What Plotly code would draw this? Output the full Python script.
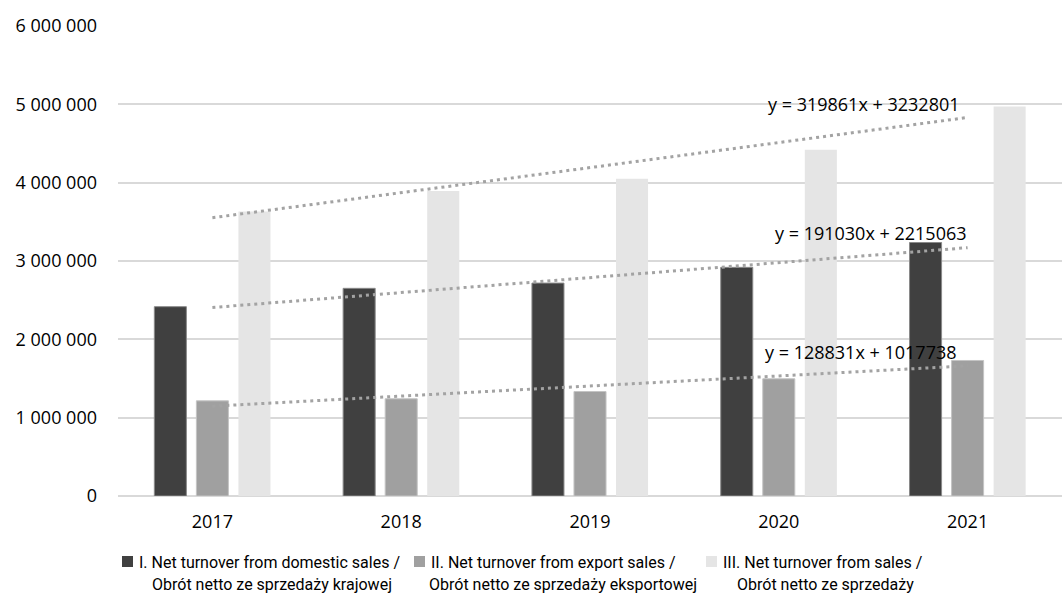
import plotly.graph_objects as go

# Years on the category axis
years = ["2017", "2018", "2019", "2020", "2021"]

# Net turnover series
domestic = [2417000, 2651000, 2718000, 2919000, 3236000]
export = [1215000, 1241000, 1334000, 1496000, 1730000]
total = [3631000, 3895000, 4049000, 4419000, 4972000]

# Linear trend coefficients (y = slope * x + intercept, x = 1..5)
trend_total = (319861, 3232801)
trend_domestic = (191030, 2215063)
trend_export = (128831, 1017738)

# Series names
name_domestic = ["I. Net turnover from domestic sales /", "Obrót netto ze sprzedaży krajowej"]
name_export = ["II. Net turnover from export sales /", "Obrót netto ze sprzedaży eksportowej"]
name_total = ["III. Net turnover from sales /", "Obrót netto ze sprzedaży"]

# Y axis ticks
y_ticks = [0, 1000000, 2000000, 3000000, 4000000, 5000000, 6000000]

W, H = 1064, 599
ML, MR, MT, MB = 118, 2, 26, 103
PW, PH = W - ML - MR, H - MT - MB


def px_x(px):
    return (px - ML) / PW


def px_y(py):
    return (H - MB - py) / PH


C_DARK, C_MID, C_LIGHT = "#404040", "#a0a0a0", "#e5e5e5"
TREND = "#a3a3a3"

fig = go.Figure()
fig.add_bar(x=years, y=domestic, name=" ".join(name_domestic),
            marker=dict(color=C_DARK, line=dict(color="#8a8a8a", width=1)))
fig.add_bar(x=years, y=export, name=" ".join(name_export),
            marker=dict(color=C_MID, line=dict(color="#c4c4c4", width=1)))
fig.add_bar(x=years, y=total, name=" ".join(name_total),
            marker=dict(color=C_LIGHT, line=dict(color="#e5e5e5", width=0)))

xs = list(range(1, len(years) + 1))
for slope, intercept in (trend_total, trend_domestic, trend_export):
    fig.add_scatter(x=years, y=[slope * x + intercept for x in xs], mode="lines",
                    line=dict(color=TREND, width=3, dash="3px,4px"),
                    showlegend=False, hoverinfo="skip")

annotations = []
# trend equations
eq_pos = [(trend_total, 864, 104), (trend_domestic, 871, 233), (trend_export, 861, 352)]
for (slope, intercept), cx, cy in eq_pos:
    annotations.append(dict(
        x=px_x(cx), y=px_y(cy), xref="paper", yref="paper",
        text=f"y = {slope}x + {intercept}", showarrow=False,
        xanchor="center", yanchor="middle",
        font=dict(family="Open Sans", size=18, color="#000000")))

# legend entries
legend_items = [(name_domestic, C_DARK, 122, 137, 150),
                (name_export, C_MID, 414, 429, 427),
                (name_total, C_LIGHT, 706, 721, 735)]
shapes = []
LEG_FONT = dict(family="Roboto, sans-serif", size=16, color="#000000")
for lines, col, sx, tx1, tx2 in legend_items:
    shapes.append(dict(type="rect", xref="paper", yref="paper",
                       x0=px_x(sx), x1=px_x(sx + 11), y0=px_y(567), y1=px_y(556),
                       fillcolor=col, line=dict(width=0)))
    annotations.append(dict(x=px_x(tx1), y=px_y(562), xref="paper", yref="paper",
                            text=lines[0], showarrow=False, xanchor="left",
                            yanchor="middle", font=LEG_FONT))
    annotations.append(dict(x=px_x(tx2), y=px_y(584), xref="paper", yref="paper",
                            text=lines[1], showarrow=False, xanchor="left",
                            yanchor="middle", font=LEG_FONT))

fig.update_layout(
    width=W, height=H,
    margin=dict(l=ML, r=MR, t=MT, b=MB),
    paper_bgcolor="white", plot_bgcolor="white",
    barmode="group", bargap=0.332, bargroupgap=0.238,
    showlegend=False,
    separators=", ",
    font=dict(family="Open Sans", size=18, color="#000000"),
    annotations=annotations, shapes=shapes,
    xaxis=dict(type="category", showgrid=False, showline=False, zeroline=False,
               ticks="", ticklabelstandoff=13, tickfont=dict(size=18)),
    yaxis=dict(range=[0, 6000000], tickvals=y_ticks, tickformat=",d",
               showgrid=True, gridcolor="#d9d9d9", gridwidth=1.5,
               zeroline=True, zerolinecolor="#d9d9d9", zerolinewidth=1.5,
               showline=False, ticks="", ticklabelstandoff=20,
               tickfont=dict(size=18)),
)

fig.write_html("out.html")
